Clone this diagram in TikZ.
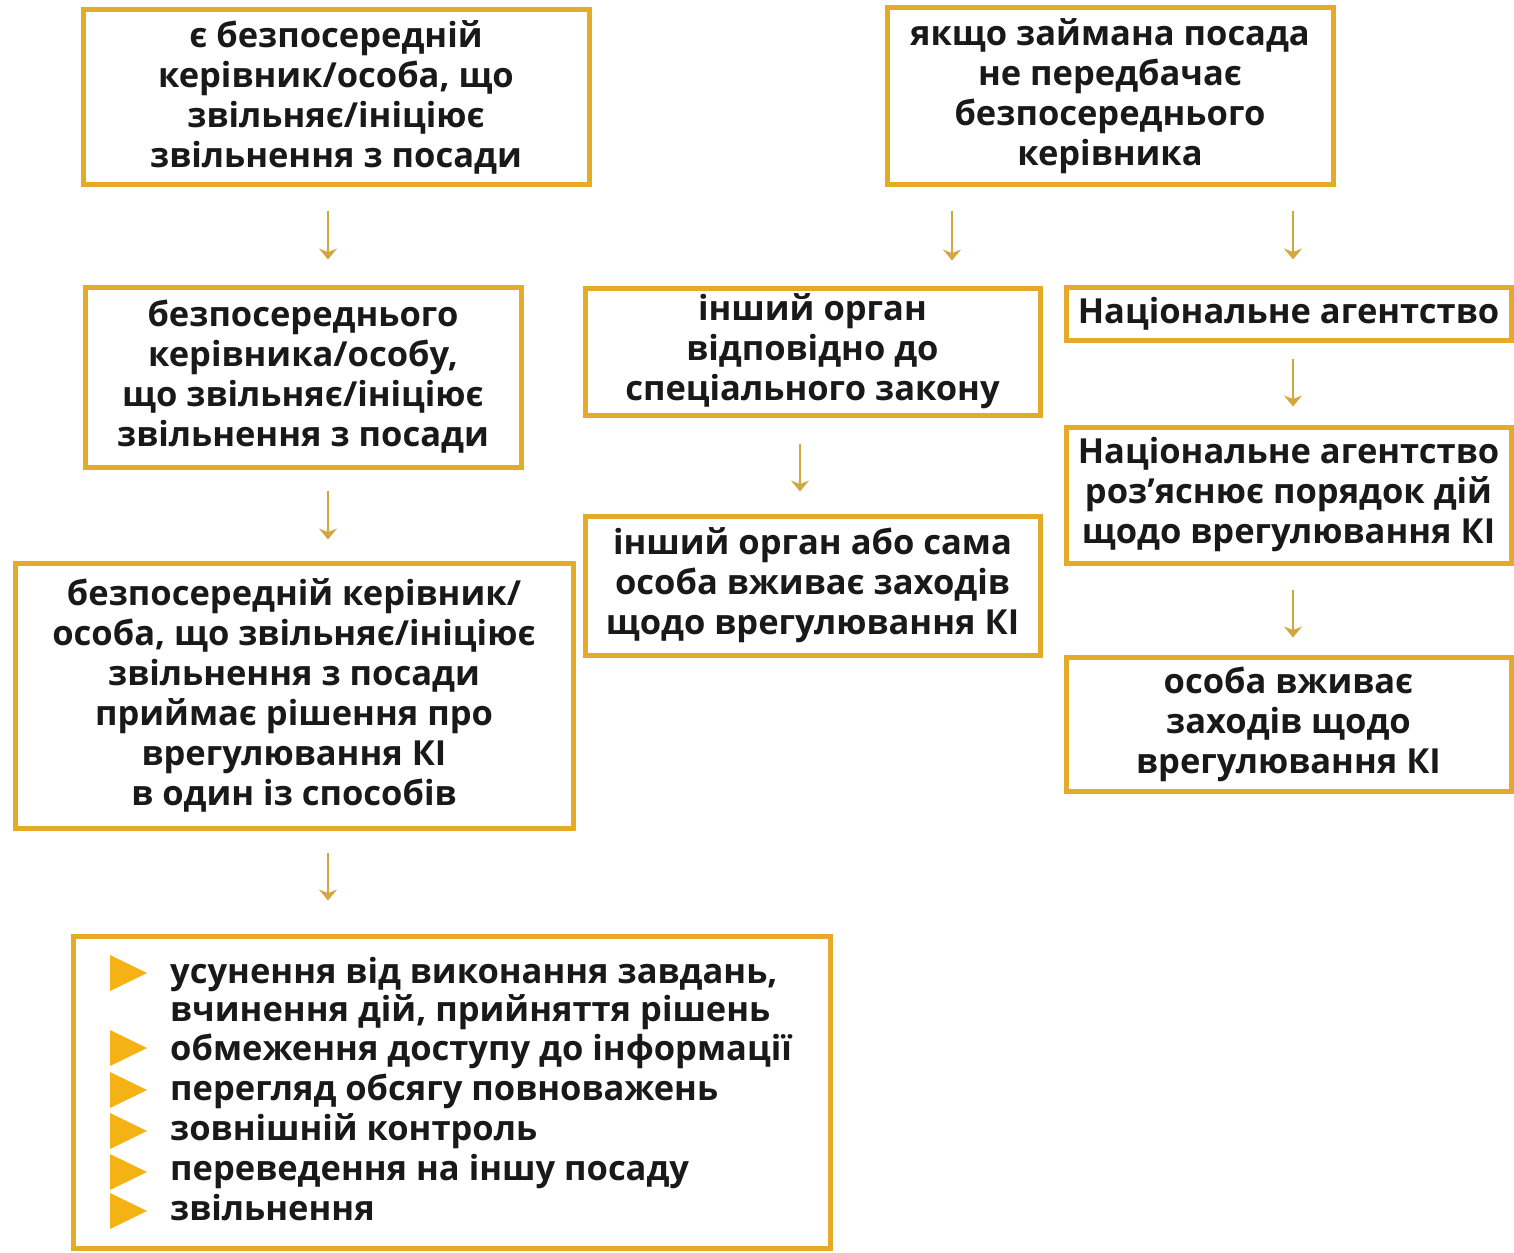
\documentclass[tikz,border=0pt]{standalone}
\usepackage{fontspec}
\setmainfont{Open Sans}
\usetikzlibrary{arrows.meta}
\definecolor{gold}{RGB}{228,170,40}
\definecolor{arrc}{RGB}{212,166,62}
\definecolor{bul}{RGB}{245,178,20}
\definecolor{ink}{RGB}{25,25,25}
\tikzset{
  box/.style={draw=gold, line width=5pt, fill=white, align=center, inner sep=0pt,
    font=\fontsize{34.5}{40}\selectfont\bfseries, text=ink},
  item/.style={anchor=mid west, inner sep=0pt, font=\fontsize{34.5}{40}\selectfont\bfseries, text=ink},
  arr/.style={draw=arrc, line width=2.5pt, -{Stealth[width=18pt,length=11pt]}},
  bullet/.style={fill=bul},
}
\begin{document}
\begin{tikzpicture}[x=1pt,y=-1pt]
\useasboundingbox[fill=white] (0,0) rectangle (1514,1252);

\node[box, minimum width=506pt, minimum height=175pt] (A) at (336,97.5)
  {є безпосередній\\керівник/особа, що\\звільняє/ініціює\\звільнення з посади};
\node[box, minimum width=446pt, minimum height=177pt] (B) at (1110,96.5)
  {якщо займана посада\\не передбачає\\безпосереднього\\керівника};
\node[box, minimum width=436pt, minimum height=180pt] (C) at (303,377)
  {безпосереднього\\керівника/особу,\\що звільняє/ініціює\\звільнення з посади};
\node[box, minimum width=455pt, minimum height=127pt] (D) at (812.5,351.5)
  {інший орган\\відповідно до\\спеціального закону};
\node[box, minimum width=445pt, minimum height=53pt] (E) at (1288.5,313.5)
  {Національне агентство};
\node[box, minimum width=445pt, minimum height=136pt] (H) at (1288.5,495)
  {Національне агентство\\роз’яснює порядок дій\\щодо врегулювання КІ};
\node[box, minimum width=445pt, minimum height=134pt] (I) at (1288.5,724)
  {особа вживає\\заходів щодо\\врегулювання КІ};
\node[box, minimum width=455pt, minimum height=139pt] (G) at (812.5,585.5)
  {інший орган або сама\\особа вживає заходів\\щодо врегулювання КІ};
\node[box, minimum width=558pt, minimum height=265pt] (F) at (294,695.5)
  {безпосередній керівник/\\особа, що звільняє/ініціює\\звільнення з посади\\приймає рішення про\\врегулювання КІ\\в один із способів};
\node[box, minimum width=757pt, minimum height=312pt] (J) at (451.5,1092) {};

\node[item] (L1) at (170,981) {усунення від виконання завдань,};
\node[item] (L2) at (170,1019) {вчинення дій, прийняття рішень};
\node[item] (L3) at (170,1058) {обмеження доступу до інформації};
\node[item] (L4) at (170,1098) {перегляд обсягу повноважень};
\node[item] (L5) at (170,1138) {зовнішній контроль};
\node[item] (L6) at (170,1178) {переведення на іншу посаду};
\node[item] (L7) at (170,1218) {звільнення};

\foreach \yy in {973,1048,1090,1131,1172,1211}
  \fill[bullet] (110,\yy-18) -- (147,\yy) -- (110,\yy+18) -- cycle;

\coordinate (x1) at (328,0);
\coordinate (x2) at (952,0);
\coordinate (x3) at (1293,0);
\coordinate (x4) at (800,0);

\draw[arr, shorten <=23pt, shorten >=25pt] (A.south -| x1) -- (C.north -| x1);
\draw[arr, shorten <=23pt, shorten >=25pt] (B.south -| x2) -- (D.north -| x2);
\draw[arr, shorten <=23pt, shorten >=25pt] (B.south -| x3) -- (E.north -| x3);
\draw[arr, shorten <=16pt, shorten >=18pt] (E.south -| x3) -- (H.north -| x3);
\draw[arr, shorten <=21pt, shorten >=21pt] (C.south -| x1) -- (F.north -| x1);
\draw[arr, shorten <=26pt, shorten >=22pt] (D.south -| x4) -- (G.north -| x4);
\draw[arr, shorten <=24pt, shorten >=17pt] (H.south -| x3) -- (I.north -| x3);
\draw[arr, shorten <=22pt, shorten >=33pt] (F.south -| x1) -- (J.north -| x1);
\end{tikzpicture}
\end{document}
